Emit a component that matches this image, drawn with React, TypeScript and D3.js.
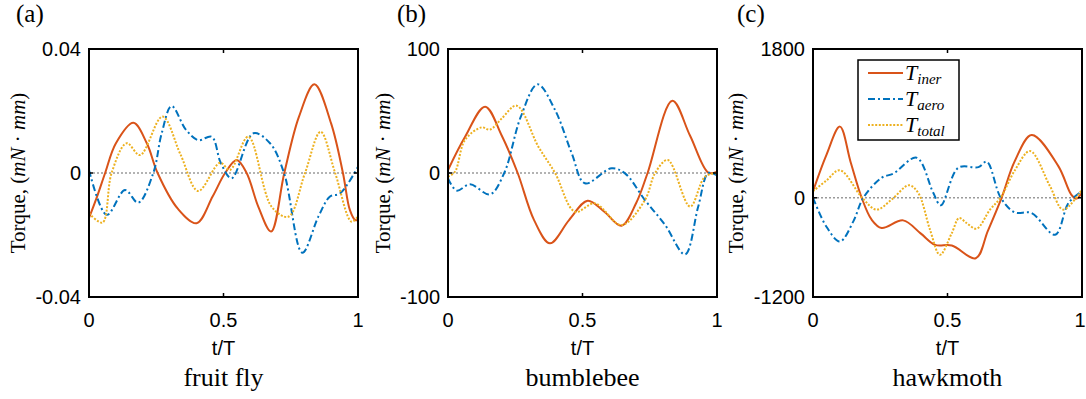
import React from "react";
import * as d3 from "d3";

// ---------- data (t/T, torque) ----------
const xTicks = [0, 0.5, 1];

const flyYTicks = [0.04, 0, -0.04];
const flyYTickLabels = ["0.04", "0", "-0.04"];
const flyIner: [number, number][] = [[0,-0.0145],[0.03,-0.0076],[0.06,0],[0.10,0.0096],[0.165,0.0162],[0.215,0.0096],[0.255,0],[0.33,-0.0115],[0.40,-0.0162],[0.46,-0.0075],[0.506,0],[0.549,0.0042],[0.586,0],[0.63,-0.011],[0.677,-0.0189],[0.726,0],[0.78,0.018],[0.838,0.0286],[0.90,0.016],[0.944,0],[0.97,-0.012],[0.99,-0.0152],[1,-0.015]];
const flyAero: [number, number][] = [[0,0.001],[0.066,-0.0135],[0.134,-0.0055],[0.183,-0.0096],[0.239,0],[0.27,0.0127],[0.307,0.0216],[0.36,0.014],[0.406,0.0106],[0.456,0.0117],[0.49,0.0032],[0.53,-0.0017],[0.611,0.0128],[0.673,0.0096],[0.725,0],[0.793,-0.0257],[0.853,-0.014],[0.896,-0.0076],[0.933,-0.0066],[1,0.002]];
const flyTotal: [number, number][] = [[0,-0.013],[0.05,-0.016],[0.084,0],[0.14,0.0096],[0.19,0.0058],[0.273,0.0182],[0.34,0.006],[0.406,-0.0058],[0.487,0.0033],[0.524,0.001],[0.592,0.0117],[0.679,-0.0109],[0.741,-0.0141],[0.803,0],[0.861,0.0133],[0.915,0],[0.976,-0.0157],[1,-0.014]];

const beeYTicks = [100, 0, -100];
const beeYTickLabels = ["100", "0", "-100"];
const beeIner: [number, number][] = [[0,2.4],[0.063,29],[0.138,53.5],[0.2,30],[0.259,0],[0.32,-38],[0.379,-56.7],[0.45,-38],[0.519,-22.3],[0.58,-31],[0.645,-42.5],[0.7,-24],[0.742,0],[0.834,58.3],[0.9,30],[0.968,0.2],[1,1]];
const beeAero: [number, number][] = [[0,-4.3],[0.032,-14.2],[0.082,-9.1],[0.156,-17.2],[0.209,0],[0.27,45],[0.333,71.5],[0.398,50.8],[0.46,15.9],[0.509,-8.3],[0.608,3.8],[0.658,-0.3],[0.732,-21.8],[0.807,-41.9],[0.881,-65.6],[0.93,-27.2],[0.968,0],[1,-2]];
const beeTotal: [number, number][] = [[0,-3],[0.026,1],[0.063,26.6],[0.125,36.8],[0.156,35],[0.2,44],[0.255,54.3],[0.336,21.2],[0.398,0],[0.472,-31.2],[0.546,-24.5],[0.645,-42],[0.732,-21.8],[0.77,0],[0.817,10.5],[0.9,-27],[0.955,-3],[1,0]];

const mothYTicks = [1800, 0, -1200];
const mothYTickLabels = ["1800", "0", "-1200"];
const mothIner: [number, number][] = [[0,79],[0.05,520],[0.1,861],[0.14,430],[0.181,0],[0.218,-265],[0.255,-366],[0.335,-273],[0.4,-430],[0.454,-569],[0.516,-577],[0.605,-731],[0.65,-400],[0.701,0],[0.75,443],[0.813,760],[0.912,383],[0.96,39],[0.979,-10],[1,60]];
const mothAero: [number, number][] = [[0,0],[0.05,-350],[0.1,-528],[0.15,-285],[0.187,0],[0.255,242],[0.299,294],[0.385,485],[0.447,60],[0.475,-91],[0.54,363],[0.615,371],[0.646,436],[0.698,0],[0.75,-176],[0.812,-184],[0.9,-447],[0.95,-62],[1,80]];
const mothTotal: [number, number][] = [[0,79],[0.05,210],[0.1,334],[0.183,0],[0.236,-143],[0.292,-22],[0.357,152],[0.391,60],[0.435,-386],[0.472,-690],[0.516,-427],[0.543,-245],[0.571,-305],[0.608,-374],[0.658,-143],[0.697,0],[0.75,330],[0.807,565],[0.881,140],[0.93,-143],[1,100]];

const panelTags = ["(a)", "(b)", "(c)"];
const panelNames = ["fruit fly", "bumblebee", "hawkmoth"];
const legendSubs = ["iner", "aero", "total"];

// ---------- styles / layout ----------
const COLORS = ["#D95319", "#0072BD", "#EDB120"];
const DASHES = ["none", "7,3,2,3", "2,1.6"];
const SANS = "'Liberation Sans', Arial, Helvetica, sans-serif";
const SERIF = "'Liberation Serif', 'Times New Roman', serif";

const panels = [
  { x0: 89, x1: 358, yDomain: [-0.04, 0.04], yTicks: flyYTicks, yLabels: flyYTickLabels, series: [flyIner, flyAero, flyTotal], ylabX: 25, tagX: 16 },
  { x0: 448, x1: 717, yDomain: [-100, 100], yTicks: beeYTicks, yLabels: beeYTickLabels, series: [beeIner, beeAero, beeTotal], ylabX: 390, tagX: 397 },
  { x0: 813, x1: 1082, yDomain: [-1200, 1800], yTicks: mothYTicks, yLabels: mothYTickLabels, series: [mothIner, mothAero, mothTotal], ylabX: 743, tagX: 737 },
];
const Y0 = 49;
const Y1 = 297;
const W = 1086;

function Panel({ p, idx }: { p: any; idx: number }) {
  const x = d3.scaleLinear().domain([0, 1]).range([p.x0, p.x1]);
  const y = d3.scaleLinear().domain(p.yDomain).range([Y1, Y0]);
  const line = d3
    .line<[number, number]>()
    .x((d) => x(d[0]))
    .y((d) => y(d[1]))
    .curve(d3.curveCatmullRom.alpha(0.5));
  const cy = (Y0 + Y1) / 2;
  const midX = (p.x0 + p.x1) / 2;
  return (
    <g>
      <defs>
        <clipPath id={`clip${idx}`}>
          <rect x={p.x0} y={Y0} width={p.x1 - p.x0} height={Y1 - Y0} />
        </clipPath>
      </defs>
      <line x1={x(0)} x2={x(1)} y1={y(0)} y2={y(0)} stroke="#9a9a9a" strokeWidth={1.6} strokeDasharray="2,2" />
      <g clipPath={`url(#clip${idx})`}>
        {p.series.map((s: [number, number][], i: number) => (
          <path key={i} d={line(s) || ""} fill="none" stroke={COLORS[i]} strokeWidth={2} strokeDasharray={DASHES[i]} />
        ))}
      </g>
      <rect x={p.x0} y={Y0} width={p.x1 - p.x0} height={Y1 - Y0} fill="none" stroke="#000" strokeWidth={2} />
      {xTicks.map((t) => (
        <g key={t}>
          <line x1={x(t)} x2={x(t)} y1={Y1} y2={Y1 - 4} stroke="#000" strokeWidth={1.5} />
          <line x1={x(t)} x2={x(t)} y1={Y0} y2={Y0 + 4} stroke="#000" strokeWidth={1.5} />
          <text x={Math.min(x(t), W - 6)} y={327} textAnchor="middle" fontFamily={SANS} fontSize={20} fill="#000">
            {String(t)}
          </text>
        </g>
      ))}
      {p.yTicks.map((t: number, i: number) => (
        <g key={t}>
          <line x1={p.x0} x2={p.x0 + 4} y1={y(t)} y2={y(t)} stroke="#000" strokeWidth={1.5} />
          <line x1={p.x1} x2={p.x1 - 4} y1={y(t)} y2={y(t)} stroke="#000" strokeWidth={1.5} />
          <text x={p.x0 - 8} y={y(t) + 7} textAnchor="end" fontFamily={SANS} fontSize={20} fill="#000">
            {p.yLabels[i]}
          </text>
        </g>
      ))}
      <text x={midX} y={355} textAnchor="middle" fontFamily={SANS} fontSize={20} fill="#000">t/T</text>
      <text
        transform={`translate(${p.ylabX},${cy}) rotate(-90)`}
        textAnchor="middle"
        fontFamily={SERIF}
        fontSize={21}
        fill="#000"
      >
        <tspan>Torque, (</tspan>
        <tspan fontStyle="italic">mN</tspan>
        <tspan> · </tspan>
        <tspan fontStyle="italic">mm</tspan>
        <tspan>)</tspan>
      </text>
      <text x={midX} y={386} textAnchor="middle" fontFamily={SERIF} fontSize={26} fill="#000">
        {panelNames[idx]}
      </text>
      <text x={p.tagX} y={22} fontFamily={SERIF} fontSize={25} fill="#000">
        {panelTags[idx]}
      </text>
    </g>
  );
}

function Legend() {
  const bx = 858, by = 60, bw = 101, bh = 80;
  const rows = [73, 99, 125];
  return (
    <g>
      <rect x={bx} y={by} width={bw} height={bh} fill="#fff" stroke="#000" strokeWidth={1.5} />
      {legendSubs.map((s, i) => (
        <g key={s}>
          <line x1={868} x2={903} y1={rows[i]} y2={rows[i]} stroke={COLORS[i]} strokeWidth={2} strokeDasharray={DASHES[i]} />
          <text x={905} y={rows[i] + 7} fontFamily={SERIF} fontStyle="italic" fontSize={22} fill="#000">
            T<tspan fontSize={15} dy={4}>{s}</tspan>
          </text>
        </g>
      ))}
    </g>
  );
}

export default function App() {
  return (
    <svg width={W} height={399} style={{ position: "absolute", left: 0, top: 0, background: "#fff" }}>
      <rect x={0} y={0} width={W} height={399} fill="#fff" />
      {panels.map((p, i) => (
        <Panel key={i} p={p} idx={i} />
      ))}
      <Legend />
    </svg>
  );
}
